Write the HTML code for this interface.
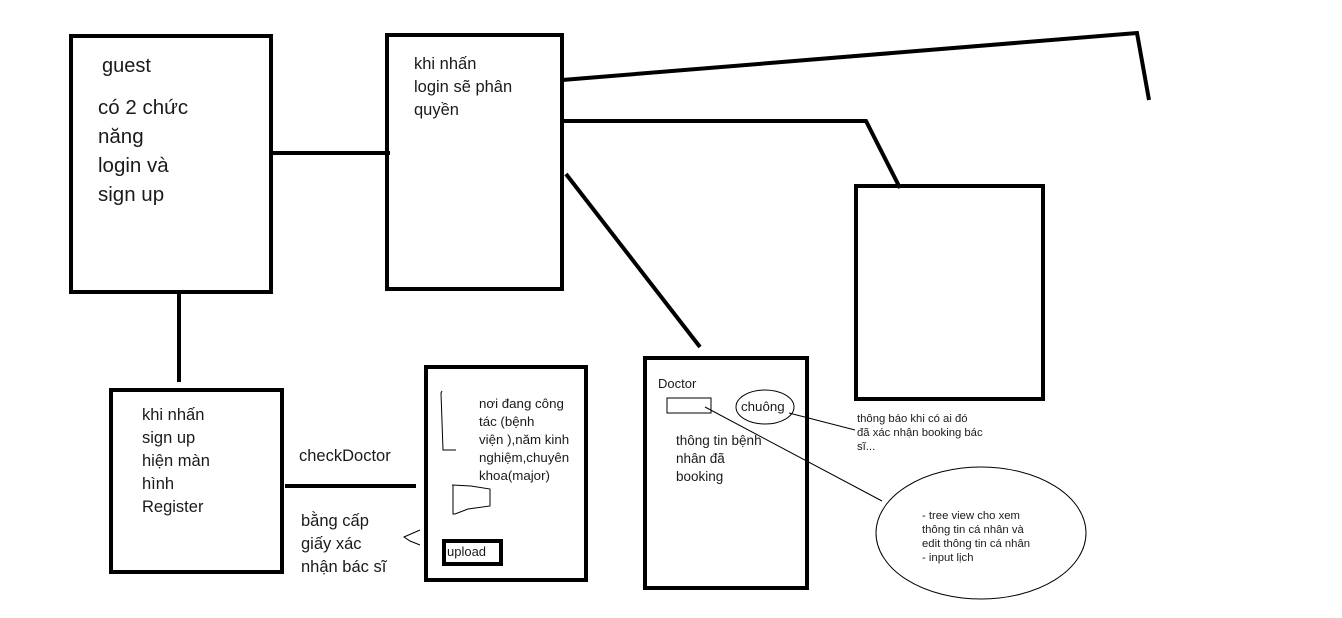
<!DOCTYPE html>
<html><head><meta charset="utf-8"><style>
body{margin:0;background:#fff;}
svg{display:block}
text{font-family:"Liberation Sans","DejaVu Sans",sans-serif;fill:#1a1a1a}
</style></head><body>
<svg width="1342" height="618" viewBox="0 0 1342 618" xmlns="http://www.w3.org/2000/svg">
<g fill="none" stroke="#000" stroke-width="4">
<rect x="71" y="36" width="200" height="256"/>
<rect x="387" y="35" width="175" height="254"/>
<rect x="111" y="390" width="171" height="182"/>
<rect x="426" y="367" width="160" height="213"/>
<rect x="645" y="358" width="162" height="230"/>
<rect x="856" y="186" width="187" height="213"/>
<rect x="444" y="541" width="57" height="23"/>
<line x1="271" y1="153" x2="390" y2="153"/>
<line x1="179" y1="292" x2="179" y2="382"/>
<polyline points="562,80 1137,33 1149,100"/>
<polyline points="562,121 866,121 900,188"/>
<line x1="566" y1="174" x2="700" y2="347"/>
<line x1="285" y1="486" x2="416" y2="486"/>
</g>
<g fill="none" stroke="#000" stroke-width="1">
<rect x="667" y="398" width="44" height="15"/>
<ellipse cx="765" cy="407" rx="29" ry="17"/>
<ellipse cx="981" cy="533" rx="105" ry="66"/>
<line x1="705" y1="407" x2="882" y2="501"/>
<line x1="789" y1="413" x2="855" y2="430"/>
<polyline points="442,391 441,393 443,450 456,450"/>
<polyline points="452,485 471,486 490,489 490,506 468,509 455,514 453,514 453,485"/>
<polyline points="420,530 404,537 410,541 420,545"/>
</g>
<text x="102" y="72" font-size="20">guest</text>
<text font-size="20.5"><tspan x="98" y="114">có 2 chức</tspan><tspan x="98" y="143">năng</tspan><tspan x="98" y="172">login và</tspan><tspan x="98" y="201">sign up</tspan></text>
<text font-size="16.5"><tspan x="414" y="69">khi nhấn</tspan><tspan x="414" y="92">login sẽ phân</tspan><tspan x="414" y="115">quyền</tspan></text>
<text font-size="16.5"><tspan x="142" y="420">khi nhấn</tspan><tspan x="142" y="443">sign up</tspan><tspan x="142" y="466">hiện màn</tspan><tspan x="142" y="489">hình</tspan><tspan x="142" y="512">Register</tspan></text>
<text x="299" y="461" font-size="16.5">checkDoctor</text>
<text font-size="16.5"><tspan x="301" y="526">bằng cấp</tspan><tspan x="301" y="549">giấy xác</tspan><tspan x="301" y="572">nhận bác sĩ</tspan></text>
<text font-size="13.3"><tspan x="479" y="408">nơi đang công</tspan><tspan x="479" y="426">tác (bệnh</tspan><tspan x="479" y="444">viện ),năm kinh</tspan><tspan x="479" y="462">nghiệm,chuyên</tspan><tspan x="479" y="480">khoa(major)</tspan></text>
<text x="447" y="556" font-size="13">upload</text>
<text x="658" y="388" font-size="13">Doctor</text>
<text x="741" y="411" font-size="13.3">chuông</text>
<text font-size="13.5"><tspan x="676" y="445">thông tin bệnh</tspan><tspan x="676" y="463">nhân đã</tspan><tspan x="676" y="481">booking</tspan></text>
<text font-size="11.3"><tspan x="857" y="422">thông báo khi có ai đó</tspan><tspan x="857" y="436">đã xác nhận booking bác</tspan><tspan x="857" y="450">sĩ...</tspan></text>
<text font-size="11.3"><tspan x="922" y="519">- tree view cho xem</tspan><tspan x="922" y="533">thông tin cá nhân và</tspan><tspan x="922" y="547">edit thông tin cá nhân</tspan><tspan x="922" y="561">- input lịch</tspan></text>
</svg>
</body></html>
